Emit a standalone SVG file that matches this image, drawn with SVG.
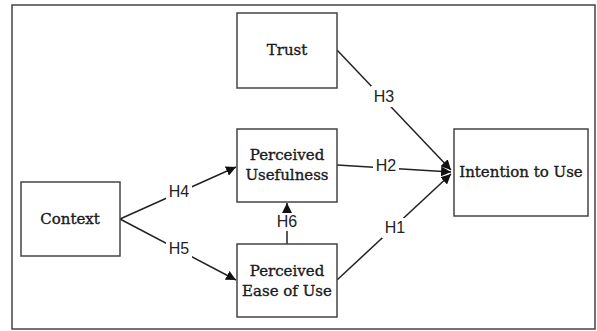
<svg xmlns="http://www.w3.org/2000/svg" width="597" height="331" viewBox="0 0 597 331">
<defs>
<marker id="ah" viewBox="0 0 10 10" refX="10" refY="5" markerWidth="10" markerHeight="10" markerUnits="userSpaceOnUse" orient="auto">
<path d="M0,0 L10,5 L0,10 z" fill="#111"/>
</marker>
<style>
.box{fill:#fff;stroke:#444;stroke-width:1.5}
.nt{font-family:"DejaVu Serif","Liberation Serif",serif;font-size:15px;fill:#1a1a1a;stroke:#1a1a1a;stroke-width:0.35;text-anchor:middle}
.lb{font-family:"Liberation Sans",Arial,sans-serif;font-size:16px;fill:#222;text-anchor:middle}
.ln{stroke:#222;stroke-width:1.5;fill:none}
.bg{fill:#fff}
</style>
</defs>
<rect x="0" y="0" width="597" height="331" fill="#fff"/>
<rect x="12" y="5" width="583" height="324" fill="#fff" stroke="#444" stroke-width="1.5"/>
<g id="connectors">
<line class="ln" x1="337" y1="50" x2="451" y2="170" marker-end="url(#ah)"/>
<line class="ln" x1="337" y1="165" x2="451" y2="172" marker-end="url(#ah)"/>
<line class="ln" x1="337" y1="280" x2="451" y2="174" marker-end="url(#ah)"/>
<line class="ln" x1="120" y1="219" x2="236" y2="167" marker-end="url(#ah)"/>
<line class="ln" x1="120" y1="219" x2="236" y2="280" marker-end="url(#ah)"/>
<line class="ln" x1="287" y1="244" x2="287" y2="203" marker-end="url(#ah)"/>
<rect class="bg" x="371" y="86" width="26" height="21"/>
<text class="lb" x="384" y="102">H3</text>
<rect class="bg" x="373" y="158" width="26" height="16"/>
<text class="lb" x="386" y="171">H2</text>
<rect class="bg" x="382" y="218" width="26" height="20"/>
<text class="lb" x="395" y="233">H1</text>
<rect class="bg" x="166" y="182" width="26" height="18"/>
<text class="lb" x="179" y="197">H4</text>
<rect class="bg" x="166" y="240" width="26" height="18"/>
<text class="lb" x="179" y="254">H5</text>
<rect class="bg" x="275" y="213" width="24" height="18"/>
<text class="lb" x="287" y="227">H6</text>
</g>
<g id="trust">
<rect class="box" x="237" y="13" width="100" height="75"/>
<text class="nt" x="287" y="55">Trust</text>
</g>
<g id="pu">
<rect class="box" x="237" y="129" width="100" height="73"/>
<text class="nt" x="287" y="160">Perceived</text>
<text class="nt" x="287" y="180">Usefulness</text>
</g>
<g id="peou">
<rect class="box" x="237" y="244" width="100" height="73"/>
<text class="nt" x="287" y="276">Perceived</text>
<text class="nt" x="287" y="296">Ease of Use</text>
</g>
<g id="context">
<rect class="box" x="21" y="182" width="99" height="74"/>
<text class="nt" x="70" y="224">Context</text>
</g>
<g id="intention">
<rect class="box" x="454" y="129" width="134" height="87"/>
<text class="nt" x="521" y="177">Intention to Use</text>
</g>
</svg>
